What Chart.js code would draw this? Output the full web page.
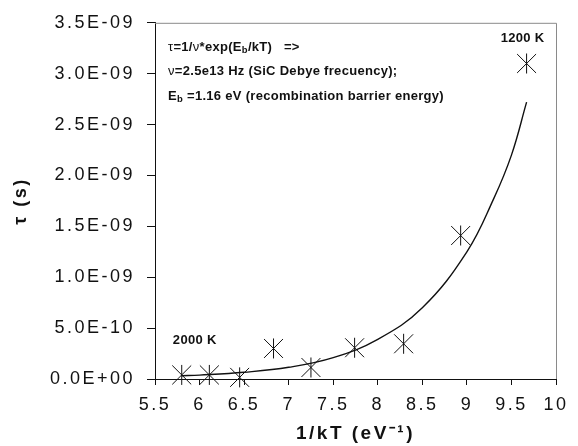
<!DOCTYPE html>
<html>
<head>
<meta charset="utf-8">
<script src="https://cdn.jsdelivr.net/npm/chart.js@4.4.1/dist/chart.umd.min.js"></script>
<style>
  html, body { margin: 0; padding: 0; background: #fff; }
  #wrap { width: 578px; height: 446px; }
</style>
</head>
<body>
<div id="wrap"><canvas id="tauChart" width="578" height="446"></canvas></div>
<script>
// Measured recombination times vs 1/kT (2000 K ... 1200 K)
const invKT = [5.80, 6.11, 6.45, 6.83, 7.25, 7.74, 8.29, 8.93, 9.67];
const tau = [0.040e-9, 0.040e-9, 0.016e-9, 0.300e-9, 0.113e-9, 0.307e-9, 0.346e-9, 1.41e-9, 3.10e-9];

// Arrhenius curve, tau = 1/nu * exp(Eb/kT)
const fitX = [5.8, 6.0, 6.5, 7.0, 7.5, 8.0, 8.5, 9.0, 9.3, 9.5, 9.67];
const fitTau = [0.032e-9, 0.038e-9, 0.066e-9, 0.115e-9, 0.21e-9, 0.39e-9, 0.70e-9, 1.25e-9, 1.77e-9, 2.20e-9, 2.72e-9];

// Axis ticks
const xTicks = [5.5, 6, 6.5, 7, 7.5, 8, 8.5, 9, 9.5, 10];
const yTicks = [0, 0.5e-9, 1.0e-9, 1.5e-9, 2.0e-9, 2.5e-9, 3.0e-9, 3.5e-9];

const FONT = "'Liberation Sans', Arial, Helvetica, sans-serif";
Chart.defaults.font.family = FONT;
Chart.defaults.color = '#111';

// "3.5E-09" style labels
function sciLabel(v) {
  if (Math.abs(v) < 1e-15) return '0.0E+00';
  const [m, e] = v.toExponential(1).split('e');
  const n = parseInt(e, 10);
  return m + 'E' + (n < 0 ? '-' : '+') + String(Math.abs(n)).padStart(2, '0');
}

const points = invKT.map((x, i) => ({ x, y: tau[i] }));

const spacing = {
  id: 'spacing',
  beforeDraw(chart) { chart.ctx.letterSpacing = '2.5px'; },
  beforeDatasetsDraw(chart) { chart.ctx.letterSpacing = '0px'; }
};

// light frame on top and right of the plot
const frame = {
  id: 'frame',
  beforeDatasetsDraw(chart) {
    const { ctx, chartArea: a } = chart;
    ctx.save();
    ctx.strokeStyle = '#8a8a8a';
    ctx.lineWidth = 1;
    ctx.beginPath();
    ctx.moveTo(a.left, a.top + 0.5);
    ctx.lineTo(a.right + 0.5, a.top + 0.5);
    ctx.lineTo(a.right + 0.5, a.bottom);
    ctx.stroke();
    ctx.restore();
  }
};

// draw text pieces in sequence; sub = subscript
function runs(ctx, x, y, parts) {
  for (const p of parts) {
    const size = p.sub ? 9.5 : 13;
    ctx.font = (p.normal ? '' : 'bold ') + size + 'px ' + FONT;
    ctx.fillText(p.t, x, p.sub ? y + 3 : y);
    x += ctx.measureText(p.t).width;
  }
}

const notes = {
  id: 'notes',
  afterDraw(chart) {
    const { ctx } = chart;
    const xs = chart.scales.x, ys = chart.scales.y;
    ctx.save();
    ctx.letterSpacing = '0.3px';
    ctx.fillStyle = '#111';
    ctx.textBaseline = 'middle';
    ctx.textAlign = 'left';
    runs(ctx, 168, 47, [
      { t: 'τ', normal: true }, { t: '=1/' }, { t: 'ν', normal: true }, { t: '*exp(E' },
      { t: 'b', sub: true }, { t: '/kT)   =>' }
    ]);
    runs(ctx, 168, 71, [
      { t: 'ν', normal: true }, { t: '=2.5e13 Hz (SiC Debye frecuency);' }
    ]);
    runs(ctx, 168, 96, [
      { t: 'E' }, { t: 'b', sub: true }, { t: ' =1.16 eV (recombination barrier energy)' }
    ]);
    // temperature labels near the end points
    ctx.font = 'bold 13px ' + FONT;
    ctx.textAlign = 'center';
    const last = invKT.length - 1;
    ctx.fillText('1200 K', xs.getPixelForValue(invKT[last]) - 4, ys.getPixelForValue(tau[last]) - 25);
    ctx.fillText('2000 K', xs.getPixelForValue(invKT[0]) + 13, ys.getPixelForValue(tau[0]) - 35);
    ctx.restore();
  }
};

new Chart(document.getElementById('tauChart'), {
  type: 'scatter',
  data: {
    datasets: [
      {
        label: 'fit',
        type: 'line',
        data: fitX.map((x, i) => ({ x, y: fitTau[i] })),
        borderColor: '#111',
        borderWidth: 1.4,
        pointRadius: 0,
        fill: false,
        tension: 0.4
      },
      // asterisk marker = diagonal cross + vertical stroke
      {
        label: 'tau',
        data: points,
        pointStyle: 'crossRot',
        pointRadius: 13.4,
        borderColor: '#111',
        borderWidth: 1,
        clip: false
      },
      {
        label: 'tau-v',
        data: points,
        pointStyle: 'line',
        rotation: 90,
        pointRadius: 10,
        borderColor: '#111',
        borderWidth: 1,
        clip: false
      }
    ]
  },
  options: {
    responsive: false,
    animation: false,
    layout: { padding: { top: 18, right: 22, left: 0, bottom: 0 } },
    plugins: { legend: { display: false }, tooltip: { enabled: false } },
    scales: {
      x: {
        type: 'linear',
        min: 5.5, max: 10,
        afterBuildTicks: s => { s.ticks = xTicks.map(v => ({ value: v })); },
        afterFit: s => { s.height = 67; },
        grid: { drawOnChartArea: false, tickLength: 6, color: '#111' },
        border: { color: '#111', width: 1 },
        ticks: {
          callback: v => String(v),
          font: { size: 18 },
          padding: 9,
          maxRotation: 0
        },
        title: {
          display: true,
          text: '1/kT (eV⁻¹)',
          font: { size: 19, weight: 'bold' },
          padding: { top: 0, bottom: 1 }
        }
      },
      y: {
        type: 'linear',
        min: 0, max: 3.5e-9,
        afterBuildTicks: s => { s.ticks = yTicks.map(v => ({ value: v })); },
        afterFit: s => { s.width = 155; },
        grid: { drawOnChartArea: false, tickLength: 8, color: '#111' },
        border: { color: '#111', width: 1 },
        ticks: {
          callback: v => sciLabel(v),
          font: { size: 18 },
          padding: 12
        },
        title: {
          display: true,
          text: 'τ (s)',
          font: { size: 18, weight: 'bold' },
          padding: { top: 10, bottom: 0 }
        }
      }
    }
  },
  plugins: [spacing, frame, notes]
});
</script>
</body>
</html>
